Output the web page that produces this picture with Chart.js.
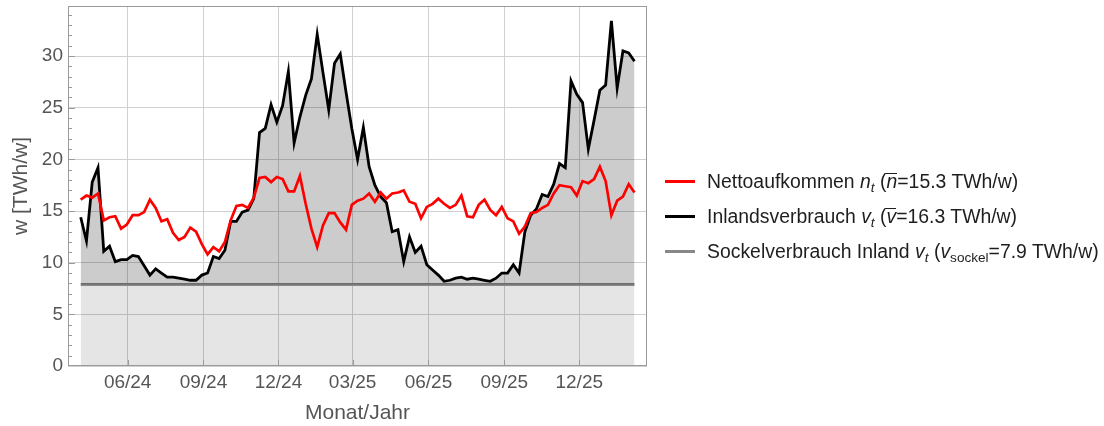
<!DOCTYPE html>
<html><head><meta charset="utf-8">
<script src="https://cdn.jsdelivr.net/npm/chart.js@4.4.1/dist/chart.umd.min.js"></script>
<style>
html,body{margin:0;padding:0;background:#fff;}
#wrap{position:relative;width:1104px;height:426px;overflow:hidden;}
#legend{position:absolute;left:665px;top:0;font-family:"Liberation Sans",Arial,sans-serif;font-size:19.4px;color:#1e1e1e;}
.item{position:absolute;left:0;white-space:nowrap;height:22px;line-height:22px;}
.sw{position:absolute;left:0;top:10px;width:30px;height:3px;}
.tx{position:absolute;left:42px;top:0;}
.tx i{font-style:italic;}
.tx sub{font-size:70%;vertical-align:-4px;line-height:0;}
.ov{display:inline-block;font-style:italic;line-height:0.78em;border-top:1px solid #1e1e1e;}
</style></head><body>
<div id="wrap">
<canvas id="c" width="1104" height="426"></canvas>
<div id="legend">
 <div class="item" style="top:170px"><span class="sw" style="background:#ff0000"></span><span class="tx">Nettoaufkommen <i>n<sub>t</sub></i> (<span class="ov">n</span>=15.3 TWh/w)</span></div>
 <div class="item" style="top:205px"><span class="sw" style="background:#000000"></span><span class="tx">Inlandsverbrauch <i>v<sub>t</sub></i> (<span class="ov">v</span>=16.3 TWh/w)</span></div>
 <div class="item" style="top:240px"><span class="sw" style="background:#888888"></span><span class="tx">Sockelverbrauch Inland <i>v<sub>t</sub></i> (<i>v</i><sub>sockel</sub>=7.9 TWh/w)</span></div>
</div>
</div>
<script>
const startDate = '2024-04-05';
const netto = [16.1,16.5,16.3,16.7,14.1,14.4,14.5,13.3,13.7,14.6,14.6,14.9,16.1,15.3,14.0,14.2,12.9,12.2,12.5,13.4,
  13.0,11.8,10.8,11.5,11.1,12.0,14.1,15.5,15.6,15.3,16.3,18.2,18.3,17.8,18.3,18.1,16.9,16.9,18.4,15.7,
  13.3,11.5,13.6,14.8,14.8,13.9,13.2,15.6,16.0,16.2,16.7,15.9,16.8,16.2,16.7,16.8,17.0,15.9,15.7,14.3,
  15.4,15.7,16.2,15.7,15.3,15.6,16.5,14.5,14.4,15.6,16.1,15.1,14.6,15.4,14.3,14.0,12.8,13.5,14.8,14.9,
  15.3,15.6,16.7,17.5,17.4,17.3,16.5,17.9,17.7,18.1,19.3,17.9,14.6,16.0,16.4,17.6,16.8];
const inland = [14.4,12.1,17.8,19.2,11.1,11.6,10.1,10.3,10.3,10.7,10.6,9.7,8.8,9.4,9.0,8.6,8.6,8.5,8.4,8.3,
  8.3,8.8,9.0,10.6,10.4,11.2,14.0,14.0,14.9,15.1,16.2,22.6,23.0,25.3,23.6,25.2,28.5,21.6,24.1,26.2,
  27.8,32.1,28.4,24.8,29.3,30.2,26.5,23.0,20.0,23.1,19.3,17.5,16.4,15.8,13.0,13.2,10.1,12.5,11.0,11.6,
  9.8,9.3,8.8,8.2,8.3,8.5,8.6,8.4,8.5,8.4,8.3,8.2,8.5,9.0,9.0,9.8,9.0,13.0,14.6,15.2,
  16.6,16.4,17.6,19.6,19.2,27.6,26.3,25.5,21.0,23.8,26.7,27.2,33.4,26.9,30.5,30.3,29.5];
const sockel = 7.9;
const tickDates = ['2024-06-01','2024-09-01','2024-12-01','2025-03-01','2025-06-01','2025-09-01','2025-12-01'];
const tickLabels = ['06/24','09/24','12/24','03/25','06/25','09/25','12/25'];
const yTicks = [0,5,10,15,20,25,30];

const DAY = 86400000;
const base = Date.UTC(2024,0,1);
const dayNum = s => (Date.parse(s + 'T00:00:00Z') - base) / DAY;
const x0 = dayNum(startDate);
const weekX = netto.map((_, i) => x0 + 7 * i);
const tickX = tickDates.map(dayNum);

const FONT = '"Liberation Sans", Arial, sans-serif';

const framePlugin = {
  id: 'frame',
  afterDraw(chart) {
    const {ctx, chartArea: a, scales} = chart;
    ctx.save();
    ctx.strokeStyle = '#9a9a9a';
    ctx.lineWidth = 1;
    ctx.strokeRect(a.left + 0.5, a.top + 0.5, a.right - a.left - 1, a.bottom - a.top - 1);
    ctx.beginPath();
    for (let v = 1; v < scales.y.max; v++) {
      const y = Math.round(scales.y.getPixelForValue(v)) + 0.5;
      const len = v % 5 === 0 ? 7 : 4;
      ctx.moveTo(a.left, y); ctx.lineTo(a.left + len, y);
    }
    tickX.forEach(t => {
      const x = Math.round(scales.x.getPixelForValue(t)) + 0.5;
      ctx.moveTo(x, a.bottom); ctx.lineTo(x, a.bottom - 6);
    });
    ctx.stroke();
    ctx.restore();
  }
};

new Chart(document.getElementById('c'), {
  type: 'line',
  data: {
    datasets: [
      {label: 'Nettoaufkommen', data: weekX.map((x, i) => ({x, y: netto[i]})),
       borderColor: '#ff0000', borderWidth: 2.7, pointRadius: 0, fill: false, tension: 0},
      {label: 'Inlandsverbrauch', data: weekX.map((x, i) => ({x, y: inland[i]})),
       borderColor: '#000000', borderWidth: 2.8, pointRadius: 0, tension: 0,
       fill: {value: sockel}, backgroundColor: 'rgba(0,0,0,0.2)'},
      {label: 'Sockelverbrauch', data: [{x: weekX[0], y: sockel}, {x: weekX[weekX.length - 1], y: sockel}],
       borderColor: '#888888', borderWidth: 3, pointRadius: 0, tension: 0,
       fill: 'origin', backgroundColor: 'rgba(0,0,0,0.1)'}
    ]
  },
  options: {
    responsive: false, animation: false,
    layout: {padding: {top: 6, right: 457, left: 0, bottom: 0}},
    plugins: {legend: {display: false}, tooltip: {enabled: false}},
    scales: {
      x: {
        type: 'linear', min: 79.6, max: 782.2,
        afterBuildTicks: s => { s.ticks = tickX.map(v => ({value: v})); },
        afterFit: s => { s.height = 60; s.paddingLeft = 0; s.paddingRight = 0; },
        grid: {color: '#d0d0d0', lineWidth: 1, drawTicks: false},
        border: {display: false},
        ticks: {callback: (v) => { const k = tickX.indexOf(v); return k >= 0 ? tickLabels[k] : ''; },
                color: '#555', font: {family: FONT, size: 19}, padding: 5, maxRotation: 0, autoSkip: false},
        title: {display: true, text: 'Monat/Jahr', color: '#555', font: {family: FONT, size: 21}, padding: {top: 0, bottom: 0}}
      },
      y: {
        type: 'linear', min: 0, max: 34.85,
        afterBuildTicks: s => { s.ticks = yTicks.map(v => ({value: v})); },
        afterFit: s => { s.width = 68; s.paddingTop = 0; s.paddingBottom = 0; },
        grid: {color: '#d0d0d0', lineWidth: 1, drawTicks: false},
        border: {display: false},
        ticks: {color: '#555', font: {family: FONT, size: 19}, padding: 5},
        title: {display: true, text: 'w [TWh/w]', color: '#555', font: {family: FONT, size: 21}, padding: {top: 9, bottom: 0}}
      }
    }
  },
  plugins: [framePlugin]
});
</script>
</body></html>
